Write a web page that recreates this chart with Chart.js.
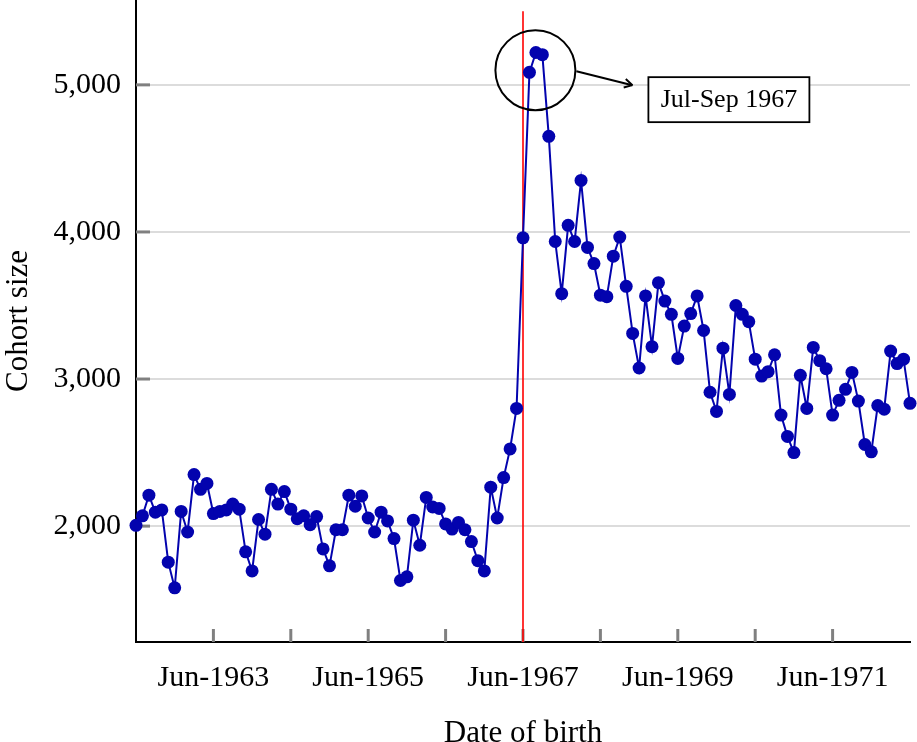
<!DOCTYPE html>
<html>
<head>
<meta charset="utf-8">
<script src="https://cdn.jsdelivr.net/npm/chart.js@4/dist/chart.umd.min.js"></script>
<style>
  html, body { margin: 0; padding: 0; background: #ffffff; }
  canvas { display: block; }
</style>
</head>
<body>
<canvas id="c" width="917" height="742"></canvas>
<script>
// ---- data ----
const startYear = 1962;
const startMonth = 5; // June (0-based)
const monthNames = ['Jan','Feb','Mar','Apr','May','Jun','Jul','Aug','Sep','Oct','Nov','Dec'];
const cohortSize = [
  2005, 2070, 2210, 2095, 2110, 1755, 1580, 2100, 1960, 2350, 2250, 2290,
  2085, 2100, 2110, 2150, 2115, 1825, 1695, 2045, 1945, 2250, 2150, 2235,
  2115, 2050, 2070, 2010, 2065, 1845, 1730, 1975, 1975, 2210, 2135, 2205,
  2055, 1960, 2095, 2035, 1915, 1630, 1655, 2040, 1870, 2195, 2130, 2120,
  2015, 1980, 2025, 1975, 1895, 1765, 1695, 2265, 2055, 2330, 2525, 2800,
  3960, 5085, 5220, 5205, 4650, 3935, 3580, 4045, 3935, 4350, 3895, 3785,
  3570, 3560, 3835, 3965, 3630, 3310, 3075, 3565, 3220, 3655, 3530, 3440,
  3140, 3360, 3445, 3565, 3330, 2910, 2780, 3210, 2895, 3500, 3440, 3390,
  3135, 3020, 3050, 3165, 2755, 2610, 2500, 3025, 2800, 3215, 3125, 3070,
  2755, 2855, 2930, 3045, 2850, 2555, 2505, 2820, 2795, 3190, 3105, 3135,
  2835
];
const xTickLabels = ['Jun-1963', 'Jun-1965', 'Jun-1967', 'Jun-1969', 'Jun-1971'];
const yTicks = [2000, 3000, 4000, 5000];
const eventMonth = 'Jun-1967';
const highlightMonth = 'Aug-1967';
const highlightLabel = 'Jul-Sep 1967';

const monthLabels = cohortSize.map((_, i) => {
  const m = (startMonth + i) % 12;
  const yr = startYear + Math.floor((startMonth + i) / 12);
  return monthNames[m] + '-' + yr;
});

const FONT = "'Liberation Serif', 'Times New Roman', serif";
const BLUE = '#0303AE';

function seg(ctx, x1, y1, x2, y2) {
  ctx.beginPath(); ctx.moveTo(x1, y1); ctx.lineTo(x2, y2); ctx.stroke();
}

const decor = {
  id: 'decor',
  beforeDatasetsDraw(chart) {
    const { ctx, chartArea, scales: { x, y } } = chart;
    ctx.save();
    ctx.strokeStyle = '#808080';
    ctx.lineWidth = 3;
    monthLabels.forEach((l, i) => {
      if (l.startsWith('Jun') && i > 0 && i < monthLabels.length - 1) {
        const px = x.getPixelForValue(i);
        seg(ctx, px, chartArea.bottom, px, chartArea.bottom - 13);
      }
    });
    yTicks.forEach(v => {
      const py = y.getPixelForValue(v);
      seg(ctx, chartArea.left, py, chartArea.left + 14, py);
    });
    // event line
    const rx = x.getPixelForValue(monthLabels.indexOf(eventMonth));
    ctx.strokeStyle = '#ff0000';
    ctx.lineWidth = 1.6;
    seg(ctx, rx, y.getPixelForValue(5500), rx, chartArea.bottom);
    ctx.restore();
  },
  afterDatasetsDraw(chart) {
    const { ctx, scales: { x, y } } = chart;
    const cx = x.getPixelForValue(monthLabels.indexOf(highlightMonth)) - 0.5;
    const cy = y.getPixelForValue(5100);
    const r = 40;
    ctx.save();
    ctx.strokeStyle = '#000';
    ctx.lineWidth = 2;
    ctx.beginPath(); ctx.arc(cx, cy, r, 0, Math.PI * 2); ctx.stroke();
    // arrow
    const ax1 = cx + r + 1, ay1 = cy + 1;
    const ax2 = cx + 97, ay2 = cy + 15;
    seg(ctx, ax1, ay1, ax2, ay2);
    const ang = Math.atan2(ay2 - ay1, ax2 - ax1);
    const hl = 9;
    seg(ctx, ax2, ay2, ax2 - hl * Math.cos(ang - 0.5), ay2 - hl * Math.sin(ang - 0.5));
    seg(ctx, ax2, ay2, ax2 - hl * Math.cos(ang + 0.5), ay2 - hl * Math.sin(ang + 0.5));
    // label box
    const bx = cx + 113, by = cy + 7, bw = 161, bh = 45;
    ctx.fillStyle = '#fff';
    ctx.fillRect(bx, by, bw, bh);
    ctx.lineWidth = 1.8;
    ctx.strokeRect(bx, by, bw, bh);
    ctx.fillStyle = '#000';
    ctx.font = '26px ' + FONT;
    ctx.textAlign = 'center';
    ctx.textBaseline = 'middle';
    ctx.fillText(highlightLabel, bx + bw / 2, by + bh / 2 + 1);
    ctx.restore();
  }
};

new Chart(document.getElementById('c'), {
  type: 'line',
  data: {
    labels: monthLabels,
    datasets: [{
      data: cohortSize,
      borderColor: BLUE,
      backgroundColor: BLUE,
      borderWidth: 2,
      pointRadius: 6.5,
      pointBorderWidth: 0,
      pointBackgroundColor: BLUE,
      tension: 0,
      clip: false
    }]
  },
  options: {
    responsive: false,
    animation: false,
    layout: { autoPadding: false, padding: { top: 0, right: 7, bottom: 0, left: 0 } },
    plugins: { legend: { display: false }, tooltip: { enabled: false } },
    scales: {
      x: {
        type: 'category',
        offset: false,
        grid: { display: false },
        border: { display: true, color: '#000', width: 2 },
        ticks: {
          autoSkip: false, maxRotation: 0, minRotation: 0, padding: 10,
          color: '#000', font: { family: FONT, size: 30 },
          callback: function (v) {
            const l = this.getLabelForValue(v);
            return xTickLabels.includes(l) ? l : '';
          }
        },
        title: {
          display: true, text: 'Date of birth', color: '#000',
          font: { family: FONT, size: 31, lineHeight: 0.5 }, padding: 0
        },
        afterFit: s => { s.height = 100; s.paddingLeft = 0; s.paddingRight = 0; }
      },
      y: {
        min: 1212, max: 5577,
        afterBuildTicks: s => { s.ticks = yTicks.map(v => ({ value: v })); },
        grid: { color: '#dcdcdc', lineWidth: 2, drawTicks: false },
        border: { display: true, color: '#000', width: 2 },
        ticks: {
          padding: 15, color: '#000', font: { family: FONT, size: 30 },
          callback: v => v.toLocaleString('en-US')
        },
        title: {
          display: true, text: 'Cohort size', color: '#000',
          font: { family: FONT, size: 31 }, padding: 0
        },
        afterFit: s => { s.width = 136; s.paddingTop = 0; s.paddingBottom = 0; }
      }
    }
  },
  plugins: [decor]
});
</script>
</body>
</html>
